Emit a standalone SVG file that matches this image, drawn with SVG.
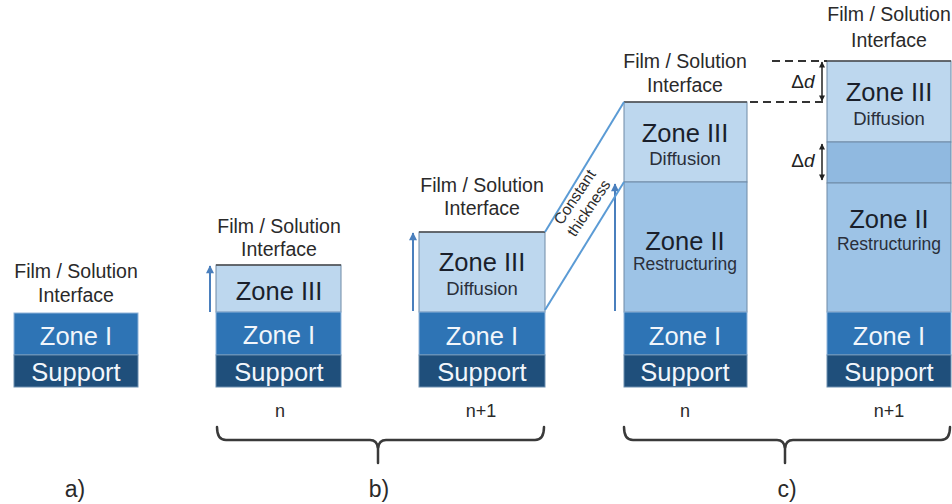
<svg xmlns="http://www.w3.org/2000/svg" width="952" height="504" viewBox="0 0 952 504">
  <defs>
    <marker id="growHead" viewBox="0 0 10 10" refX="9" refY="5" markerWidth="9" markerHeight="8" markerUnits="userSpaceOnUse" orient="auto">
      <path d="M0,0 L10,5 L0,10 Z" fill="#4a7fbd"/>
    </marker>
    <marker id="dHead" viewBox="0 0 10 10" refX="9" refY="5" markerWidth="7" markerHeight="6" markerUnits="userSpaceOnUse" orient="auto-start-reverse">
      <path d="M0,0 L10,5 L0,10 Z" fill="#222"/>
    </marker>
    <style>
      text { font-family: "Liberation Sans", Arial, sans-serif; text-anchor: middle; }
      .support { fill: #1f4f7b; stroke: #6d8fb0; stroke-width: 1; }
      .z1 { fill: #2e74b5; stroke: #8fb4d9; stroke-width: 1; }
      .z2 { fill: #9dc3e6; stroke: #6f8aa6; stroke-width: 1; }
      .z2b { fill: #90b9e0; stroke: #6f8aa6; stroke-width: 1; }
      .z3 { fill: #bdd7ee; stroke: #6f8aa6; stroke-width: 1; }
      .top { stroke: #4d4d4d; stroke-width: 1.5; }
      .lbl-big-w { font-size: 25.5px; fill: #f2f6fb; }
      .lbl-big-d { font-size: 25.5px; fill: #1a1f2b; }
      .lbl-sm { font-size: 18.5px; fill: #2a2f3a; }
      .lbl-r { font-size: 17.5px; fill: #2a2f3a; }
      .iface { font-size: 19.5px; fill: #2a2a2a; }
      .step { font-size: 18px; fill: #2a2a2a; }
      .panel { font-size: 23px; fill: #2a2a2a; }
      .grow { stroke: #4a7fbd; stroke-width: 2; fill: none; marker-end: url(#growHead); }
      .thick { stroke: #5b9bd5; stroke-width: 2; fill: none; }
      .dash { stroke: #333; stroke-width: 2; stroke-dasharray: 8 5; fill: none; }
      .delta { stroke: #222; stroke-width: 1.5; fill: none; marker-start: url(#dHead); marker-end: url(#dHead); }
      .brace { stroke: #3a3a3a; stroke-width: 2.5; fill: none; stroke-linecap: round; }
    </style>
  </defs>

  <rect width="952" height="504" fill="#ffffff"/>

  <!-- a) initial film -->
  <g id="stack-a">
    <text class="iface" x="76" y="278">Film / Solution</text>
    <text class="iface" x="76" y="302">Interface</text>
    <rect class="z1" x="14" y="313" width="124" height="42"/>
    <rect class="support" x="14" y="355" width="124" height="32"/>
    <text class="lbl-big-w" x="76" y="345">Zone I</text>
    <text class="lbl-big-w" x="76" y="381">Support</text>
  </g>

  <!-- b) step n -->
  <g id="stack-b-n">
    <text class="iface" x="279" y="233">Film / Solution</text>
    <text class="iface" x="279" y="256">Interface</text>
    <rect class="z3" x="216" y="265" width="125" height="47"/>
    <rect class="z1" x="216" y="312" width="125" height="43"/>
    <rect class="support" x="216" y="355" width="125" height="32"/>
    <line class="top" x1="216" y1="265" x2="341" y2="265"/>
    <text class="lbl-big-d" x="279" y="300">Zone III</text>
    <text class="lbl-big-w" x="279" y="344">Zone I</text>
    <text class="lbl-big-w" x="279" y="381">Support</text>
  </g>

  <!-- b) step n+1 -->
  <g id="stack-b-n1">
    <text class="iface" x="482" y="192">Film / Solution</text>
    <text class="iface" x="482" y="215">Interface</text>
    <rect class="z3" x="419" y="232" width="126" height="80"/>
    <rect class="z1" x="419" y="312" width="126" height="43"/>
    <rect class="support" x="419" y="355" width="126" height="32"/>
    <line class="top" x1="419" y1="232" x2="545" y2="232"/>
    <text class="lbl-big-d" x="482" y="271">Zone III</text>
    <text class="lbl-sm" x="482" y="295">Diffusion</text>
    <text class="lbl-big-w" x="482" y="345">Zone I</text>
    <text class="lbl-big-w" x="482" y="381">Support</text>
  </g>

  <!-- c) step n -->
  <g id="stack-c-n">
    <text class="iface" x="685" y="68">Film / Solution</text>
    <text class="iface" x="685" y="92">Interface</text>
    <rect class="z3" x="624" y="102" width="123" height="80"/>
    <rect class="z2" x="624" y="182" width="123" height="130"/>
    <rect class="z1" x="624" y="312" width="123" height="43"/>
    <rect class="support" x="624" y="355" width="123" height="32"/>
    <line class="top" x1="624" y1="102" x2="747" y2="102"/>
    <text class="lbl-big-d" x="685" y="142">Zone III</text>
    <text class="lbl-sm" x="685" y="165">Diffusion</text>
    <text class="lbl-big-d" x="685" y="250">Zone II</text>
    <text class="lbl-r" x="685" y="270">Restructuring</text>
    <text class="lbl-big-w" x="685" y="345">Zone I</text>
    <text class="lbl-big-w" x="685" y="381">Support</text>
  </g>

  <!-- c) step n+1 -->
  <g id="stack-c-n1">
    <text class="iface" x="889" y="21">Film / Solution</text>
    <text class="iface" x="889" y="47">Interface</text>
    <rect class="z3" x="827" y="61" width="124" height="81"/>
    <rect class="z2b" x="827" y="142" width="124" height="41"/>
    <rect class="z2" x="827" y="183" width="124" height="129"/>
    <rect class="z1" x="827" y="312" width="124" height="43"/>
    <rect class="support" x="827" y="355" width="124" height="32"/>
    <line class="top" x1="827" y1="61" x2="951" y2="61"/>
    <text class="lbl-big-d" x="889" y="101">Zone III</text>
    <text class="lbl-sm" x="889" y="125">Diffusion</text>
    <text class="lbl-big-d" x="889" y="228">Zone II</text>
    <text class="lbl-r" x="889" y="250">Restructuring</text>
    <text class="lbl-big-w" x="889" y="345">Zone I</text>
    <text class="lbl-big-w" x="889" y="381">Support</text>
  </g>

  <!-- connectors: growth arrows, thickness guides, offsets, braces -->
  <g id="connectors">
    <line class="grow" x1="210" y1="312" x2="210" y2="266"/>
    <line class="grow" x1="413" y1="311" x2="413" y2="233"/>
    <line class="grow" x1="615" y1="311" x2="615" y2="184"/>

    <line class="thick" x1="545" y1="232" x2="624" y2="102"/>
    <line class="thick" x1="545" y1="310" x2="624" y2="182"/>
    <text x="579" y="200" font-size="15.5" fill="#2a2a2a" transform="rotate(-56 579 200)">Constant</text>
    <text x="593" y="211" font-size="15.5" fill="#2a2a2a" transform="rotate(-56 593 211)">thickness</text>

    <line class="dash" x1="772" y1="61" x2="827" y2="61"/>
    <line class="dash" x1="750" y1="102" x2="827" y2="102"/>
    <line class="delta" x1="822" y1="62" x2="822" y2="101"/>
    <line class="delta" x1="822" y1="144" x2="822" y2="180"/>
    <text x="803" y="88" font-size="19" fill="#222">Δ<tspan font-style="italic">d</tspan></text>
    <text x="803" y="167" font-size="19" fill="#222">Δ<tspan font-style="italic">d</tspan></text>

    <path class="brace" d="M217,427 Q217,440 226,440 L370,440 Q377,440 378,448 Q379,440 386,440 L535,440 Q544,440 544,427"/>
    <line class="brace" x1="378" y1="446" x2="378" y2="463"/>
    <path class="brace" d="M624,427 Q624,440 633,440 L777,440 Q784,440 785,448 Q786,440 793,440 L941,440 Q950,440 950,427"/>
    <line class="brace" x1="785" y1="446" x2="785" y2="463"/>
  </g>

  <!-- step and panel labels -->
  <g id="labels">
    <text class="step" x="280" y="417">n</text>
    <text class="step" x="481" y="417">n+1</text>
    <text class="step" x="685" y="417">n</text>
    <text class="step" x="889" y="417">n+1</text>
    <text class="panel" x="75" y="497">a)</text>
    <text class="panel" x="379" y="497">b)</text>
    <text class="panel" x="787" y="497">c)</text>
  </g>
</svg>
